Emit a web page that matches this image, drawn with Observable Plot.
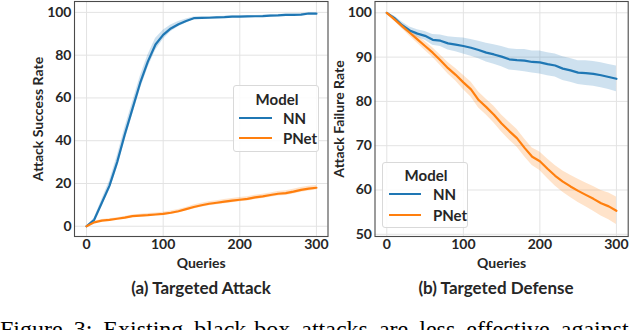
<!DOCTYPE html>
<html>
<head>
<meta charset="utf-8">
<script src="https://cdn.jsdelivr.net/npm/d3@7"></script>
<script src="https://cdn.jsdelivr.net/npm/@observablehq/plot@0.6"></script>
<style>
  html, body { margin: 0; padding: 0; background: #fff; }
  #wrap { position: relative; width: 638px; height: 330px; overflow: hidden; background: #fff; font-family: Lato, "DejaVu Sans", sans-serif; color: #262626; }
  .panel { position: absolute; top: 0; }
  .cap { position: absolute; font-weight: bold; font-size: 17px; transform: translate(-50%, -50%); white-space: nowrap; color: #262626; }
  .legend { position: absolute; border: 1px solid #d9d9d9; border-radius: 3px; background: rgba(255,255,255,0.85); box-sizing: border-box; }
  .legend .t { position: absolute; font-weight: bold; font-size: 15px; transform: translate(-50%, -50%); white-space: nowrap; }
  .legend .sw { position: absolute; height: 2.5px; }
  .legend .lab { position: absolute; font-weight: bold; font-size: 15px; transform: translateY(-50%); white-space: nowrap; }
  #fig { position: absolute; left: 0; top: 317px; font-family: "Liberation Serif", serif; font-size: 24px; word-spacing: 5px; line-height: 1; white-space: nowrap; color: #000; }
</style>
</head>
<body>
<div id="wrap"></div>
<script>
// ---- data ----
const queries = [0,10,20,30,40,50,60,70,80,90,100,110,120,130,140,150,160,170,180,190,200,210,220,230,240,250,260,270,280,290,300];
const models = ["NN", "PNet"];
const colors = ["#1f77b4", "#ff7f0e"];

// (a) Targeted Attack — Attack Success Rate
const attackNN   = [0,3,11,19,30,43,55,67,77,85,89.5,92.5,94.5,96,97.3,97.4,97.5,97.7,97.8,98,98,98.1,98.2,98.3,98.5,98.6,98.8,98.8,99,99.5,99.4];
const attackNNci = [0,0.6,1.5,2.2,2.8,3,3,3,3,2.8,2.2,1.6,1.2,0.9,0.6,0.5,0.5,0.4,0.4,0.4,0.4,0.4,0.4,0.4,0.4,0.4,0.4,0.4,0.4,0.3,0.3];
const attackPN   = [0,1.8,2.6,3,3.5,4,4.7,5,5.2,5.5,5.8,6.3,7,8,9,9.8,10.5,11,11.5,12,12.4,12.8,13.5,14,14.6,15.2,15.5,16.2,17,17.6,18];
const attackPNci = [0,0.4,0.5,0.5,0.5,0.6,0.6,0.6,0.7,0.7,0.7,0.8,0.8,0.8,0.9,0.9,0.9,0.9,1,1,1,1,1,1,1,1.1,1.1,1.1,1.1,1.1,1.1];

// (b) Targeted Defense — Attack Failure Rate
const defNN   = [100,98.8,97.2,96,95.3,94.8,93.9,93.7,93.1,92.8,92.5,92.1,91.6,91,90.6,90.1,89.5,89.3,89.2,88.9,88.8,88.4,88.1,87.4,87,86.5,86.4,86.2,85.9,85.5,85.1];
const defNNci = [0,0.5,0.7,0.8,0.9,1,1.2,1.3,1.5,1.6,1.8,1.9,2,2.1,2.2,2.3,2.4,2.4,2.5,2.5,2.6,2.6,2.6,2.7,2.7,2.7,2.8,2.8,2.8,2.8,2.9];
const defPN   = [100,98.5,97,95.5,94,92.5,91,89.3,87.5,86,84.3,82.7,80.3,78.7,77,75,73.3,71.7,69.5,67.5,66.5,64.8,63.2,61.9,60.8,59.8,58.9,58,57,56.3,55.3];
const defPNci = [0,0.4,0.6,0.8,0.9,1,1.1,1.2,1.3,1.4,1.6,1.7,1.8,1.8,1.9,1.9,2,2,2,2,2.1,2.2,2.3,2.4,2.5,2.6,2.7,2.8,2.9,3,3.1];

const xTicks = [0,100,200,300];
const yTicksA = [0,20,40,60,80,100];
const yTicksB = [50,60,70,80,90,100];
const titles = ["(a) Targeted Attack", "(b) Targeted Defense"];
const yLabels = ["Attack Success Rate", "Attack Failure Rate"];
const xLabel = "Queries";
const legendTitle = "Model";
const figCaption = "Figure 3: Existing black-box attacks are less effective against PNet";

// ---- build tables ----
function rows(seriesList) {
  const out = [];
  seriesList.forEach(([name, vals, ci]) => {
    queries.forEach((q, i) => out.push({model: name, q, v: vals[i], lo: vals[i] - ci[i], hi: vals[i] + ci[i]}));
  });
  return out;
}
const dataA = rows([["NN", attackNN, attackNNci], ["PNet", attackPN, attackPNci]]);
const dataB = rows([["NN", defNN, defNNci], ["PNet", defPN, defPNci]]);

function panel({data, width, marginLeft, marginRight, xDomain, yDomain, yTicks, yLabel, labelOffset}) {
  return Plot.plot({
    width, height: 272,
    marginLeft, marginRight, marginTop: 1, marginBottom: 36,
    style: {fontFamily: "Lato, 'DejaVu Sans', sans-serif", fontWeight: "bold", fontSize: "14px", color: "#262626", background: "transparent"},
    x: {domain: xDomain},
    y: {domain: yDomain},
    color: {domain: models, range: colors},
    marks: [
      Plot.gridX(xTicks, {stroke: "#e3e3e3", strokeOpacity: 1, strokeWidth: 1}),
      Plot.gridY(yTicks, {stroke: "#e3e3e3", strokeOpacity: 1, strokeWidth: 1}),
      Plot.areaY(data, {x: "q", y1: "lo", y2: "hi", fill: "model", fillOpacity: 0.22, curve: "linear"}),
      Plot.lineY(data, {x: "q", y: "v", stroke: "model", strokeWidth: 2.2, curve: "linear"}),
      Plot.axisX(xTicks, {tickSize: 0, tickPadding: 3, fontSize: 14, fontWeight: "bold", label: xLabel, labelAnchor: "center", labelArrow: "none", labelOffset: 31}),
      Plot.axisY(yTicks, {tickSize: 0, tickPadding: 3, fontSize: 14, fontWeight: "bold", label: yLabel, labelAnchor: "center", labelArrow: "none", labelOffset: labelOffset}),
      Plot.frame({stroke: "#4a4a4a", strokeWidth: 1.1})
    ]
  });
}

const wrap = document.getElementById("wrap");

const left = panel({data: dataA, width: 332, marginLeft: 74, marginRight: 4.5, xDomain: [-15.7, 315.1], yDomain: [-4.8, 105.1], yTicks: yTicksA, yLabel: yLabels[0], labelOffset: 41});
left.classList.add("panel"); left.style.left = "0px";
wrap.appendChild(left);

const right = panel({data: dataB, width: 308, marginLeft: 44.5, marginRight: 10.3, xDomain: [-15.4, 315.4], yDomain: [49.5, 102.55], yTicks: yTicksB, yLabel: yLabels[1], labelOffset: 41});
right.classList.add("panel"); right.style.left = "330px";
wrap.appendChild(right);

// legends
function legend(box, titleY, rowYs, swX, swW, textX) {
  const d = document.createElement("div");
  d.className = "legend";
  Object.assign(d.style, {left: box[0] + "px", top: box[1] + "px", width: box[2] + "px", height: box[3] + "px"});
  const t = document.createElement("div");
  t.className = "t"; t.textContent = legendTitle;
  t.style.left = (box[2] / 2) + "px"; t.style.top = (titleY - box[1]) + "px";
  d.appendChild(t);
  models.forEach((m, i) => {
    const s = document.createElement("div");
    s.className = "sw";
    Object.assign(s.style, {left: (swX - box[0]) + "px", top: (rowYs[i] - box[1] - 1.25) + "px", width: swW + "px", background: colors[i]});
    d.appendChild(s);
    const l = document.createElement("div");
    l.className = "lab"; l.textContent = m;
    Object.assign(l.style, {left: (textX - box[0]) + "px", top: (rowYs[i] - box[1]) + "px"});
    d.appendChild(l);
  });
  wrap.appendChild(d);
}
legend([233, 85, 86, 67], 98, [117, 137], 238, 33, 282);
legend([382, 162, 86, 66], 174, [193, 214], 388, 32, 432);

// captions
[[201, 287], [496, 287]].forEach(([x, y], i) => {
  const c = document.createElement("div");
  c.className = "cap"; c.textContent = titles[i];
  c.style.left = x + "px"; c.style.top = y + "px";
  wrap.appendChild(c);
});
const fig = document.createElement("div");
fig.id = "fig"; fig.textContent = figCaption;
wrap.appendChild(fig);
</script>
</body>
</html>
